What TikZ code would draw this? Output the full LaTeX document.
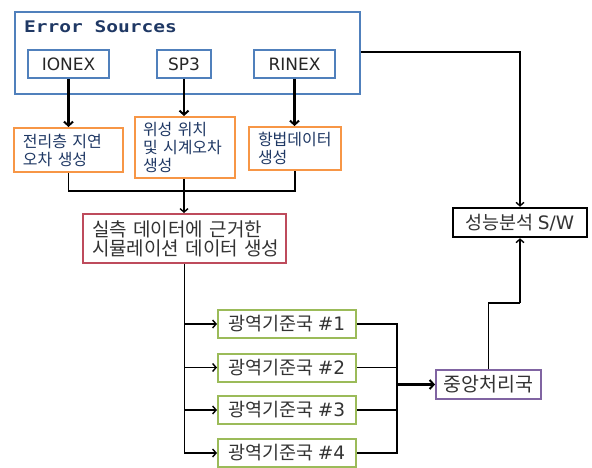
\documentclass[tikz,border=0pt]{standalone}
\usepackage{fontspec}
\setmainfont{DejaVu Sans}
\newfontfamily\kor{Noto Sans CJK KR}
\newfontfamily\monob{DejaVu Sans Mono Bold}
\usetikzlibrary{arrows.meta,calc}
\definecolor{cblue}{HTML}{5080BC}
\definecolor{corange}{HTML}{F79646}
\definecolor{cred}{HTML}{BE4B5C}
\definecolor{cgreen}{HTML}{9BBB59}
\definecolor{cpurple}{HTML}{8064A2}
\definecolor{cnavy}{HTML}{1F3864}
\definecolor{ctext}{HTML}{333333}
\newcommand{\lat}[1]{{\fontspec{DejaVu Sans}#1}}
\tikzset{
  box/.style={draw, line width=2pt, inner sep=0pt, fill=white},
  srcbox/.style={box, draw=cblue, minimum height=28pt, text=black!85, font=\fontsize{17}{19}\selectfont},
  orbox/.style={box, draw=corange, text=cnavy, align=left, inner ysep=0pt, font=\kor\fontsize{16}{18}\selectfont},
  redbox/.style={box, draw=cred, text=ctext, align=left, inner ysep=0pt, font=\kor\fontsize{19}{19}\selectfont},
  grbox/.style={box, draw=cgreen, minimum width=138pt, minimum height=28pt, text=ctext, font=\kor\fontsize{18.5}{19}\selectfont},
  thickarrow/.style={line width=2.2pt, -{Straight Barb[length=4pt,width=9pt,line width=2pt]}},
  thinarrow/.style={line width=1.4pt, -{Straight Barb[length=3.5pt,width=8pt,line width=1.4pt]}},
  thinline/.style={line width=1.4pt},
}
\begin{document}
\begin{tikzpicture}[x=1pt,y=-1pt]
\useasboundingbox (0,0) rectangle (592,468);
% outer error sources box
\node[box, draw=cblue, minimum width=345pt, minimum height=82pt] (outer) at (187.5,53) {};
\node[anchor=base west, inner sep=0pt, text=cnavy] (title) at (24,33) {\scalebox{1.22}[1]{\monob\fontsize{16}{18}\selectfont Error Sources}};
\node[srcbox, minimum width=81pt] (ionex) at (68.5,64) {IONEX};
\node[srcbox, minimum width=54pt] (sp3) at (184,64) {SP3};
\node[srcbox, minimum width=81pt] (rinex) at (294.5,64) {RINEX};
% orange boxes
\node[orbox, inner xsep=9pt, text width=91pt, minimum height=44pt] (o1) at (68.5,150) {전리층~지연\\오차~생성};
\node[orbox, inner xsep=8pt, text width=84pt, minimum height=61pt] (o2) at (185,147.5) {위성~위치\\및~시계오차\\생성};
\node[orbox, inner xsep=9pt, text width=74pt, minimum height=43pt] (o3) at (295,148.5) {항법데이터\\생성};
% red box
\node[redbox, inner xsep=9pt, text width=185pt, minimum height=49pt] (red) at (184.5,238.5) {실측~데이터에~근거한\\시뮬레이션~데이터~생성};
% green boxes
\node[grbox] (g1) at (287,324) {광역기준국 \lat{\#1}};
\node[grbox] (g2) at (287,367.5) {광역기준국 \lat{\#2}};
\node[grbox] (g3) at (287,410) {광역기준국 \lat{\#3}};
\node[grbox] (g4) at (287,453) {광역기준국 \lat{\#4}};
% purple box
\node[box, draw=cpurple, minimum width=105pt, minimum height=29pt, text=ctext, font=\kor\fontsize{19.5}{19}\selectfont] (cp) at (488.5,384.5) {중앙처리국};
% performance analysis box
\node[box, draw=black, line width=2.5pt, minimum width=134pt, minimum height=29pt, text=ctext, font=\kor\fontsize{18.5}{19}\selectfont] (sw) at (520,222.5) {성능분석 \lat{S/W}};
% coordinates
\coordinate (j1) at (184,191);
\coordinate (bus) at (397,384.5);
\coordinate (k) at (520,303);
% connectors
\draw[thickarrow] (ionex.south) -- (ionex.south |- o1.north);
\draw[thickarrow] (sp3.south) -- (sp3.south |- o2.north);
\draw[thickarrow] (rinex.south) -- (rinex.south |- o3.north);
\draw[thinline] (o1.south) |- (j1) -| (o3.south);
\draw[thinline] (o2.south -| j1) -- (j1);
\draw[thinarrow] (j1) -- (j1 |- red.north);
\draw[thinarrow] (red.south) |- (g1.west);
\draw[thinarrow] (red.south) |- (g2.west);
\draw[thinarrow] (red.south) |- (g3.west);
\draw[thinarrow] (red.south) |- (g4.west);
\draw[thinline] (g1.east) -| (bus);
\draw[thinline] (g4.east) -| (bus);
\draw[thinline] (g2.east) -- (g2.east -| bus);
\draw[thinline] (g3.east) -- (g3.east -| bus);
\draw[thickarrow] (bus) -- (cp.west);
\draw[thinline] (cp.north) |- (k);
\draw[thinarrow] (k) -- (sw.south);
\draw[thinarrow] ($(outer.east)+(0,-1)$) -| (sw.north);
\end{tikzpicture}
\end{document}
